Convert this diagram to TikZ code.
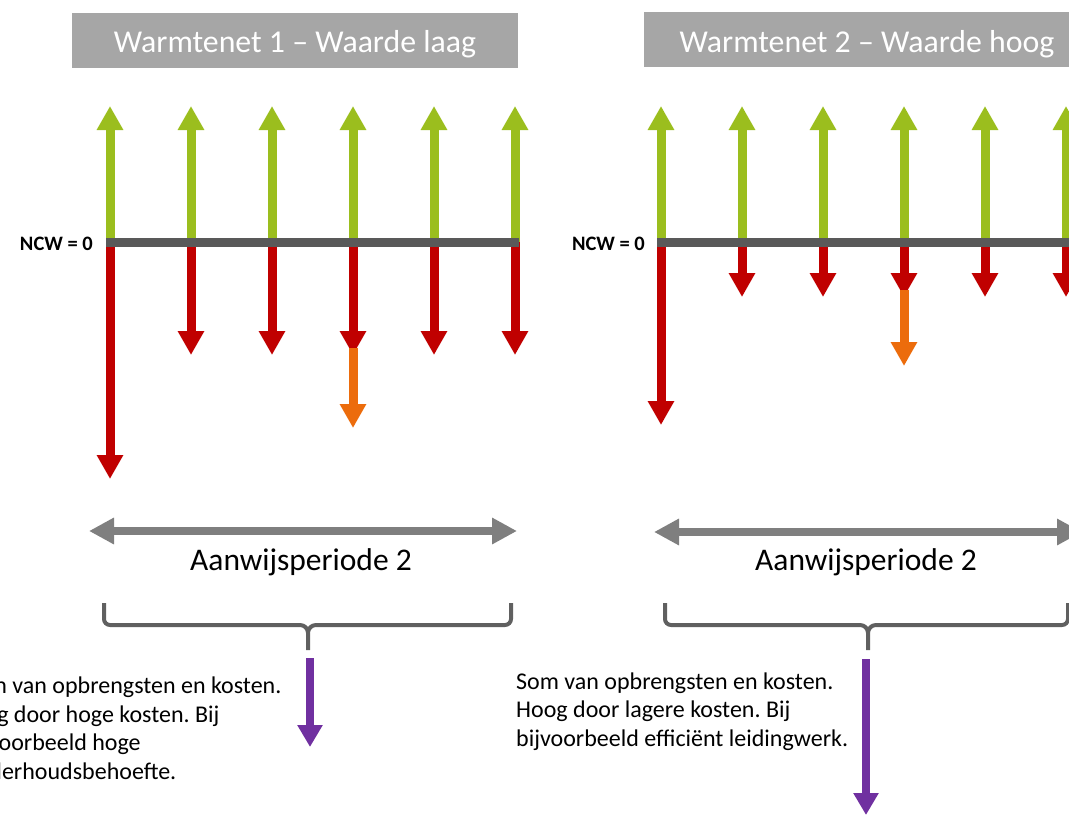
\documentclass[tikz,border=0pt]{standalone}
\usepackage{fontspec}
\setmainfont{Carlito}
\usetikzlibrary{arrows.meta}
\frenchspacing

\definecolor{cashgreen}{RGB}{155,190,30}
\definecolor{cashred}{RGB}{192,0,0}
\definecolor{cashorange}{RGB}{236,108,12}
\definecolor{sumpurple}{RGB}{112,48,160}
\definecolor{bargray}{RGB}{89,89,89}
\definecolor{periodgray}{RGB}{127,127,127}
\definecolor{bracegray}{RGB}{96,96,96}
\definecolor{boxgray}{RGB}{166,166,166}

\tikzset{
    inflow/.style={line width=9pt, cashgreen, -{Triangle[length=24pt,width=25pt]}},
    outflow/.style={line width=9pt, cashred, -{Triangle[length=24pt,width=25pt]}},
    extraflow/.style={line width=9pt, cashorange, -{Triangle[length=24pt,width=25pt]}},
    sumflow/.style={line width=8pt, sumpurple, -{Triangle[length=22pt,width=24pt]}},
    zeroline/.style={line width=9pt, bargray},
    period/.style={line width=8pt, periodgray, {Triangle[length=25pt,width=25pt]}-{Triangle[length=25pt,width=25pt]}},
    bracket/.style={line width=4pt, bracegray, line join=round},
    titlebox/.style={fill=boxgray, minimum width=446pt, minimum height=55pt, inner sep=0pt},
    titletext/.style={text=white, font=\fontsize{31.8}{36}\selectfont, inner sep=0pt, anchor=base},
    ncwtext/.style={font=\bfseries\fontsize{20.5}{24}\selectfont, inner sep=0pt, anchor=base east},
    periodtext/.style={font=\fontsize{31.5}{36}\selectfont, inner sep=0pt, anchor=base},
    notetext/.style={font=\fontsize{24}{28.5}\selectfont, align=left, inner sep=0pt, anchor=base west}
}

\begin{document}
\begin{tikzpicture}[x=1pt, y=-1pt]
            \useasboundingbox (0,0) rectangle (1069,816);
            \clip (0,0) rectangle (1069,816);

            \node[titlebox] (box1) at (295,40.5) {};
            \node[titletext] (title1) at (295,53) {Warmtenet 1 – Waarde laag};
            \node[titlebox] (box2) at (867,40) {};
            \node[titletext] (title2) at (867,53) {Warmtenet 2 – Waarde hoog};

            \draw[inflow] (110,242) -- (110,106);
            \draw[inflow] (191,242) -- (191,106);
            \draw[inflow] (272,242) -- (272,106);
            \draw[inflow] (353,242) -- (353,106);
            \draw[inflow] (434,242) -- (434,106);
            \draw[inflow] (515,242) -- (515,106);
            \draw[outflow] (110,242) -- (110,479);
            \draw[outflow] (191,242) -- (191,355);
            \draw[outflow] (272,242) -- (272,355);
            \draw[outflow] (353,242) -- (353,355);
            \draw[outflow] (434,242) -- (434,355);
            \draw[outflow] (515,242) -- (515,355);
            \draw[extraflow] (353,348) -- (353,428);
            \draw[zeroline] (106,242) -- (519,242);
            \node[ncwtext] (ncw1) at (93,250) {NCW = 0};

            \draw[inflow] (661,242) -- (661,106);
            \draw[inflow] (742,242) -- (742,106);
            \draw[inflow] (823,242) -- (823,106);
            \draw[inflow] (904,242) -- (904,106);
            \draw[inflow] (985,242) -- (985,106);
            \draw[inflow] (1066,242) -- (1066,106);
            \draw[outflow] (661,242) -- (661,425);
            \draw[outflow] (742,242) -- (742,297);
            \draw[outflow] (823,242) -- (823,297);
            \draw[outflow] (904,242) -- (904,297);
            \draw[outflow] (985,242) -- (985,297);
            \draw[outflow] (1066,242) -- (1066,297);
            \draw[extraflow] (904,290) -- (904,366);
            \draw[zeroline] (657,242) -- (1070,242);
            \node[ncwtext] (ncw2) at (645,250) {NCW = 0};

            \draw[period] (89,531) -- (517,531);
            \node[periodtext] (per1) at (301,570) {Aanwijsperiode 2};
            \draw[period] (654,532) -- (1082,532);
            \node[periodtext] (per2) at (866,570) {Aanwijsperiode 2};

            \draw[bracket] (104,603) -- (104,619) to[out=-90,in=180] (110,625) -- (300,625)
                to[out=0,in=90] (308,633) -- (308,650)
                (308,633) to[out=90,in=180] (316,625) -- (505,625) to[out=0,in=-90] (511,619) -- (511,603);
            \draw[bracket] (665,603) -- (665,619) to[out=-90,in=180] (671,625) -- (860,625)
                to[out=0,in=90] (868,633) -- (868,650)
                (868,633) to[out=90,in=180] (876,625) -- (1062,625) to[out=0,in=-90] (1068,619) -- (1068,603);

            \draw[sumflow] (310,658) -- (310,747);
            \draw[sumflow] (866,659) -- (866,815);

            \node[notetext] (note1) at (-36,779) {Som van opbrengsten en kosten.\\Laag door hoge kosten. Bij\\bijvoorbeeld hoge\\onderhoudsbehoefte.};
            \node[notetext] (note2) at (516,746) {Som van opbrengsten en kosten.\\Hoog door lagere kosten. Bij\\bijvoorbeeld efficiënt leidingwerk.};
        \end{tikzpicture}
\end{document}
